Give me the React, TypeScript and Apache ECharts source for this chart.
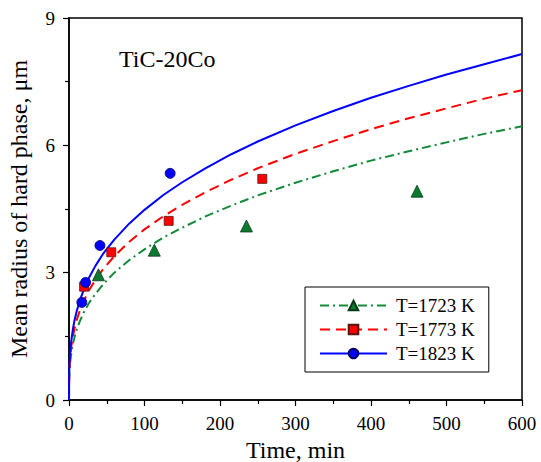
import React, { useEffect, useRef } from "react";
import * as echarts from "echarts";

const curveTimes = [0, 0.2, 0.5, 1, 2, 3, 5, 7, 10, 14, 20, 27, 35, 45, 60, 80, 100, 125, 150, 180, 215, 250, 300, 350, 400, 450, 500, 550, 600];
const curve1723 = [0, 0.45, 0.61, 0.77, 0.96, 1.1, 1.31, 1.46, 1.65, 1.84, 2.08, 2.3, 2.5, 2.72, 3.0, 3.3, 3.55, 3.83, 4.06, 4.32, 4.58, 4.82, 5.12, 5.39, 5.64, 5.86, 6.07, 6.27, 6.45];
const curve1773 = [0, 0.51, 0.69, 0.87, 1.09, 1.25, 1.48, 1.66, 1.87, 2.09, 2.35, 2.6, 2.83, 3.08, 3.39, 3.73, 4.02, 4.33, 4.6, 4.89, 5.19, 5.46, 5.8, 6.1, 6.38, 6.64, 6.87, 7.1, 7.3];
const curve1823 = [0, 0.57, 0.77, 0.97, 1.22, 1.39, 1.65, 1.85, 2.08, 2.33, 2.62, 2.9, 3.16, 3.44, 3.78, 4.16, 4.48, 4.83, 5.13, 5.45, 5.79, 6.09, 6.47, 6.81, 7.12, 7.4, 7.67, 7.91, 8.15];

const time1723 = [39, 113, 235, 461];
const radius1723 = [2.95, 3.53, 4.1, 4.92];
const time1773 = [20, 56, 132, 256];
const radius1773 = [2.67, 3.48, 4.22, 5.21];
const time1823 = [17, 22, 41, 134];
const radius1823 = [2.3, 2.77, 3.64, 5.34];

const seriesNames = ["T=1723 K", "T=1773 K", "T=1823 K"];
const xTicks = [0, 100, 200, 300, 400, 500, 600];
const yTicks = [0, 3, 6, 9];

const FONT = "'Liberation Serif', 'Times New Roman', serif";

const pairs = (xs: number[], ys: number[]) => xs.map((x, i) => [x, ys[i]]);

export default function App() {
  const ref = useRef<HTMLDivElement>(null);
  useEffect(() => {
    if (!ref.current) return;
    const chart = echarts.init(ref.current, undefined, { renderer: "svg" });
    const green = "#15893a";
    const red = "#ff0000";
    const blue = "#0000ff";
    const specs = [
      { name: seriesNames[0], color: green, fill: "#0b7a30", border: "#0a3a1a", sym: "triangle", size: 12, dash: [9, 4, 2, 4] as any, curve: curve1723, t: time1723, r: radius1723 },
      { name: seriesNames[1], color: red, fill: "#ff0000", border: "#5a1515", sym: "rect", size: 9, dash: [10, 6] as any, curve: curve1773, t: time1773, r: radius1773 },
      { name: seriesNames[2], color: blue, fill: "#0000ff", border: "#000060", sym: "circle", size: 10, dash: "solid" as any, curve: curve1823, t: time1823, r: radius1823 },
    ];
    const series: any[] = [];
    specs.forEach((s) => {
      series.push({
        name: s.name,
        type: "line",
        data: pairs(curveTimes, s.curve),
        smooth: false,
        showSymbol: false,
        symbol: s.sym,
        symbolSize: s.size,
        itemStyle: { color: s.fill, borderColor: s.border, borderWidth: 0.8, opacity: 1 },
        lineStyle: { color: s.color, width: 2, type: s.dash },
        z: 2,
      });
    });
    specs.forEach((s) => {
      series.push({
        name: s.name,
        type: "scatter",
        data: pairs(s.t, s.r),
        symbol: s.sym,
        symbolSize: s.size,
        itemStyle: { color: s.fill, borderColor: s.border, borderWidth: 0.8, opacity: 1 },
        z: 3,
      });
    });
    chart.setOption({
      animation: false,
      backgroundColor: "#fff",
      textStyle: { fontFamily: FONT, color: "#000" },
      grid: {
        left: 69,
        right: 19,
        top: 18,
        bottom: 62,
        outerBoundsMode: "none",
        containLabel: false,
        show: true,
        borderColor: "#000",
        borderWidth: 1.5,
        backgroundColor: "transparent",
      },
      legend: {
        data: seriesNames,
        orient: "vertical",
        left: 305,
        top: 287,
        itemWidth: 67,
        itemHeight: 12,
        itemGap: 5,
        padding: [9, 14, 9, 14],
        borderColor: "#000",
        borderWidth: 1,
        backgroundColor: "#fff",
        textStyle: { fontFamily: FONT, fontSize: 19, color: "#000", padding: [0, 0, 0, 4] },
      },
      xAxis: {
        type: "value",
        min: 0,
        max: 600,
        interval: 100,
        name: "Time, min",
        nameLocation: "middle",
        nameGap: 37,
        nameTextStyle: { fontFamily: FONT, fontSize: 24, lineHeight: 24, color: "#000", fontWeight: "normal" },
        axisLine: { show: true, lineStyle: { color: "#000", width: 1.5 } },
        axisTick: { show: true, inside: false, length: 6, lineStyle: { color: "#000", width: 1.2 } },
        minorTick: { show: true, splitNumber: 2, length: 4, lineStyle: { color: "#000", width: 1.2 } },
        axisLabel: {
          fontFamily: FONT,
          fontSize: 19,
          color: "#000",
          margin: 14,
          formatter: (v: number) => (xTicks.includes(v) ? String(v) : ""),
        },
        splitLine: { show: false },
      },
      yAxis: {
        type: "value",
        min: 0,
        max: 9,
        interval: 3,
        name: "Mean radius of hard phase, μm",
        nameLocation: "middle",
        nameGap: 38,
        nameTextStyle: { fontFamily: FONT, fontSize: 24, color: "#000", fontWeight: "normal" },
        axisLine: { show: true, lineStyle: { color: "#000", width: 1.5 } },
        axisTick: { show: true, inside: false, length: 6, lineStyle: { color: "#000", width: 1.2 } },
        minorTick: { show: true, splitNumber: 2, length: 4, lineStyle: { color: "#000", width: 1.2 } },
        axisLabel: {
          fontFamily: FONT,
          fontSize: 19,
          color: "#000",
          margin: 14,
          formatter: (v: number) => (yTicks.includes(v) ? String(v) : ""),
        },
        splitLine: { show: false },
      },
      graphic: [
        {
          type: "text",
          left: 119,
          top: 47,
          style: { text: "TiC-20Co", fontFamily: FONT, fontSize: 24, fill: "#000" },
        },
      ],
      series,
    });
    return () => chart.dispose();
  }, []);
  return <div ref={ref} style={{ width: 541, height: 462, position: "absolute", left: 0, top: 0 }} />;
}
